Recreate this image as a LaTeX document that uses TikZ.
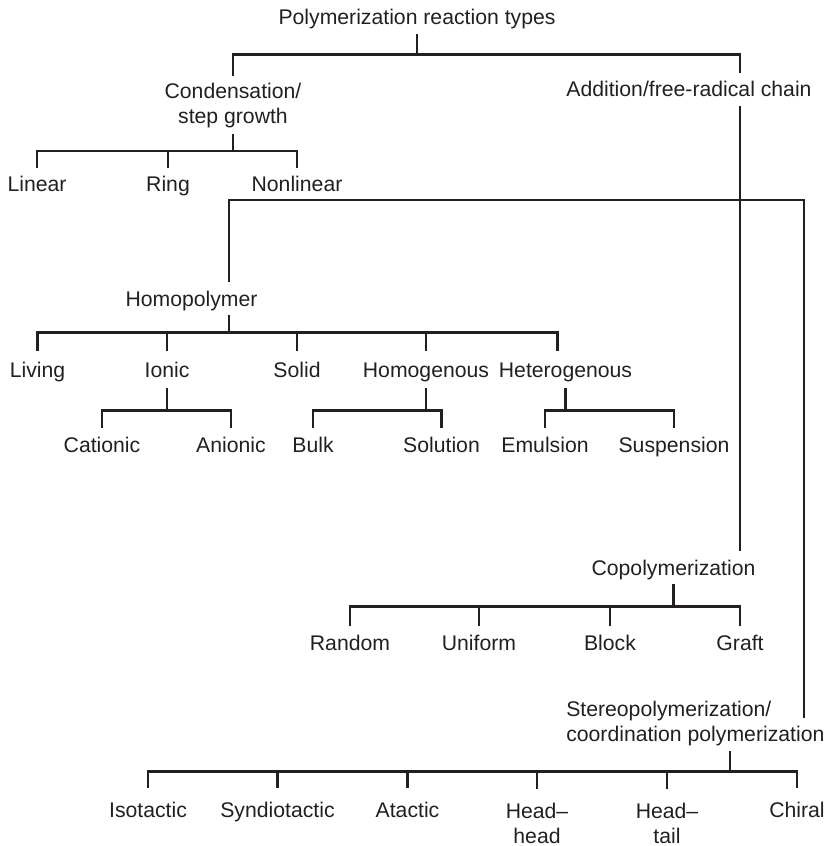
\documentclass[tikz,border=0pt]{standalone}
\usepackage{fontspec}
\setmainfont{Liberation Sans}
\usetikzlibrary{calc}

\definecolor{ink}{HTML}{231F20}

\tikzset{
  lbl/.style={font=\fontsize{15.08}{17.8}\selectfont, anchor=base, inner xsep=0pt,
    inner ysep=0.2cm, text height=0.38cm, text depth=0pt},
  lbltwo/.style={font=\fontsize{15.08}{17.8}\selectfont, align=center, anchor=north,
    inner xsep=0pt, inner ysep=0.1cm},
  midrow/.style={inner ysep=0.25cm},
  lowrow/.style={inner ysep=0.325cm}
}

\begin{document}
\begin{tikzpicture}[x=0.025cm, y=-0.025cm, line width=1.8pt, draw=ink, text=ink]
\useasboundingbox (0,0) rectangle (828,846);

% Trunk lines
\coordinate (trunkA) at (740,0);
\coordinate (trunkB) at (804,0);
\coordinate (trunkC) at (229,0);
\coordinate (trunkD) at (730,0);

% Top level
\node[lbl] (title) at (417,25) {Polymerization reaction types};
\node[lbltwo, inner ysep=0.125cm] (cond) at (233,76.5) {Condensation/\\step growth};
\node[lbl] (add) at (689,97) {Addition/free-radical chain};

\draw (title.south) -- ++(0,20) coordinate (j0);
\draw (cond.north) |- (j0) -| (add.north -| trunkA);

% Condensation branches
\node[lbl] (lin) at (37,192) {Linear};
\node[lbl] (ring) at (168,192) {Ring};
\node[lbl] (nonlin) at (297,192) {Nonlinear};

\draw (cond.south) -- ++(0,17) coordinate (j1);
\draw (lin.north) |- (j1) -| (nonlin.north);
\draw (ring.north) -- (ring.north |- j1);

% Addition branches
\node[lbl] (homo) at (191.5,306) {Homopolymer};
\node[lbl] (copoly) at (673.5,575) {Copolymerization};
\node[lbltwo, align=left, anchor=north west] (stereo) at (565,695.4)
  {Stereopolymerization/\\coordination polymerization};

\coordinate (j2) at (740,200);
\coordinate (stereoin) at (804,718);
\draw (add.south -| trunkA) -- (copoly.north -| trunkA);
\draw (homo.north -| trunkC) |- (j2) -| (stereoin);

% Homopolymer branches
\node[lbl, midrow] (living) at (37.5,377) {Living};
\node[lbl, midrow] (ionic) at (167,377) {Ionic};
\node[lbl, midrow] (solid) at (297,377) {Solid};
\node[lbl, midrow] (homog) at (426,377) {Homogenous};
\node[lbl, midrow] (heterog) at (565.5,377) {Heterogenous};

\draw (homo.south -| trunkC) -- ++(0,17) coordinate (j3);
\draw (living.north) |- (j3) -| ($(heterog.north)+(-8,0)$);
\foreach \n in {ionic,solid,homog}
  \draw (\n.north) -- (\n.north |- j3);

\node[lbl] (cation) at (102,452) {Cationic};
\node[lbl] (anion) at (231,452) {Anionic};
\node[lbl] (bulk) at (313,452) {Bulk};
\node[lbl] (soln) at (441.5,452) {Solution};
\node[lbl] (emul) at (545,452) {Emulsion};
\node[lbl] (susp) at (674,452) {Suspension};

\draw (ionic.south) -- ++(0,22) coordinate (j4);
\draw (cation.north) |- (j4) -| (anion.north);
\draw (homog.south) -- ++(0,22) coordinate (j5);
\draw (bulk.north) |- (j5) -| (soln.north);
\draw (heterog.south) -- ++(0,22) coordinate (j6);
\draw (emul.north) |- (j6) -| (susp.north);

% Copolymerization branches
\node[lbl] (random) at (350,650) {Random};
\node[lbl] (uniform) at (479,650) {Uniform};
\node[lbl] (block) at (610,650) {Block};
\node[lbl] (graft) at (740,650) {Graft};

\draw (copoly.south) -- ++(0,22) coordinate (j7);
\draw (random.north) |- (j7) -| (graft.north);
\foreach \n in {uniform,block}
  \draw (\n.north) -- (\n.north |- j7);

% Stereopolymerization branches
\node[lbl, lowrow] (iso) at (148,817) {Isotactic};
\node[lbl, lowrow] (syndio) at (277.5,817) {Syndiotactic};
\node[lbl, lowrow] (atactic) at (407.5,817) {Atactic};
\node[lbltwo, lowrow] (hh) at (537,788.8) {Head–\\head};
\node[lbltwo, lowrow] (ht) at (667,788.8) {Head–\\tail};
\node[lbl, lowrow] (chiral) at (797,817) {Chiral};

\draw (stereo.south -| trunkD) -- ++(0,20.5) coordinate (j8);
\draw (iso.north) |- (j8) -| (chiral.north);
\foreach \n in {syndio,atactic,hh,ht}
  \draw (\n.north) -- (\n.north |- j8);

\end{tikzpicture}
\end{document}
